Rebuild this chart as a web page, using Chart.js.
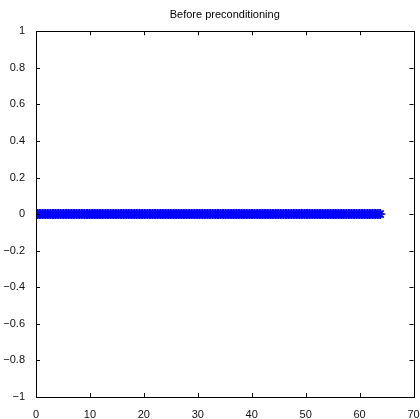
<!DOCTYPE html>
<html>
<head>
<meta charset="utf-8">
<script src="https://cdn.jsdelivr.net/npm/chart.js@4"></script>
<style>
  html, body { margin: 0; padding: 0; background: #fff; }
  #wrap { width: 420px; height: 419px; }
</style>
</head>
<body>
<div id="wrap"><canvas id="eigPlot" width="420" height="419"></canvas></div>
<script>
// eigenvalues before preconditioning (real part, imag part)
const eigReal = [
  0.02, 0.3, 0.61, 0.9, 1.21, 1.5, 1.8, 2.11, 2.4, 2.7,
  3.01, 3.3, 3.6, 3.91, 4.2, 4.5, 4.81, 5.1, 5.4, 5.71,
  6.0, 6.3, 6.61, 6.9, 7.2, 7.51, 7.8, 8.1, 8.41, 8.7,
  9.0, 9.31, 9.6, 9.9, 10.21, 10.5, 10.8, 11.11, 11.4, 11.7,
  12.01, 12.3, 12.6, 12.91, 13.2, 13.5, 13.81, 14.1, 14.4, 14.71,
  15.0, 15.3, 15.61, 15.9, 16.2, 16.51, 16.8, 17.1, 17.41, 17.7,
  18.0, 18.31, 18.6, 18.9, 19.21, 19.5, 19.8, 20.11, 20.4, 20.7,
  21.01, 21.3, 21.6, 21.91, 22.2, 22.5, 22.81, 23.1, 23.4, 23.71,
  24.0, 24.3, 24.61, 24.9, 25.2, 25.51, 25.8, 26.1, 26.41, 26.7,
  27.0, 27.31, 27.6, 27.9, 28.21, 28.5, 28.8, 29.11, 29.4, 29.7,
  30.01, 30.3, 30.6, 30.91, 31.2, 31.5, 31.81, 32.1, 32.4, 32.71,
  33.0, 33.3, 33.61, 33.9, 34.2, 34.51, 34.8, 35.1, 35.41, 35.7,
  36.0, 36.31, 36.6, 36.9, 37.21, 37.5, 37.8, 38.11, 38.4, 38.7,
  39.01, 39.3, 39.6, 39.91, 40.2, 40.5, 40.81, 41.1, 41.4, 41.71,
  42.0, 42.3, 42.61, 42.9, 43.2, 43.51, 43.8, 44.1, 44.41, 44.7,
  45.0, 45.31, 45.6, 45.9, 46.21, 46.5, 46.8, 47.11, 47.4, 47.7,
  48.01, 48.3, 48.6, 48.91, 49.2, 49.5, 49.81, 50.1, 50.4, 50.71,
  51.0, 51.3, 51.61, 51.9, 52.2, 52.51, 52.8, 53.1, 53.41, 53.7,
  54.0, 54.31, 54.6, 54.9, 55.21, 55.5, 55.8, 56.11, 56.4, 56.7,
  57.01, 57.3, 57.6, 57.91, 58.2, 58.5, 58.81, 59.1, 59.4, 59.71,
  60.0, 60.3, 60.61, 60.9, 61.2, 61.51, 61.8, 62.1, 62.41, 62.7,
  63.0, 63.3, 63.6, 63.85
];
const eigImag = eigReal.map(() => 0);

const xTicks = [0, 10, 20, 30, 40, 50, 60, 70];
const yTicks = [-1, -0.8, -0.6, -0.4, -0.2, 0, 0.2, 0.4, 0.6, 0.8, 1];
const plotTitle = "Before preconditioning";

const fontFam = "'Liberation Sans', Arial, Helvetica, sans-serif";

function fmt(v) {
  let r = Math.round(v * 10) / 10;
  let s = String(Math.abs(r));
  return r < 0 ? "\u2212" + s : s;
}

// box around plot + inward ticks on all 4 sides (matlab style)
const boxTicks = {
  id: "boxTicks",
  afterLayout(chart) {
    // center the title over the plot area, not the whole canvas
    const tb = chart.titleBlock, a = chart.chartArea;
    if (tb) { tb.left = a.left; tb.right = a.right; tb.width = a.right - a.left; }
  },
  afterDraw(chart) {
    const ctx = chart.ctx, a = chart.chartArea;
    const xs = chart.scales.x, ys = chart.scales.y;
    const len = 4;
    ctx.save();
    ctx.strokeStyle = "#000";
    ctx.lineWidth = 1;
    ctx.beginPath();
    xTicks.forEach(t => {
      const px = Math.round(xs.getPixelForValue(t)) + 0.5;
      ctx.moveTo(px, a.bottom); ctx.lineTo(px, a.bottom - len);
      ctx.moveTo(px, a.top); ctx.lineTo(px, a.top + len);
    });
    yTicks.forEach(t => {
      const py = Math.round(ys.getPixelForValue(t)) + 0.5;
      ctx.moveTo(a.left, py); ctx.lineTo(a.left + len, py);
      ctx.moveTo(a.right, py); ctx.lineTo(a.right - len, py);
    });
    ctx.stroke();
    ctx.strokeRect(Math.round(a.left) + 0.5, Math.round(a.top) + 0.5,
      Math.round(a.right - a.left), Math.round(a.bottom - a.top));
    ctx.restore();
  }
};

new Chart(document.getElementById("eigPlot"), {
  type: "scatter",
  data: {
    datasets: [{
      data: eigReal.map((x, i) => ({ x: x, y: eigImag[i] })),
      pointStyle: "star",
      radius: 5,
      borderWidth: 1.5,
      borderColor: "#0000ff",
      backgroundColor: "#0000ff"
    }]
  },
  options: {
    responsive: false,
    animation: false,
    layout: { padding: { left: 0, right: 6, top: 0, bottom: 0 } },
    plugins: {
      legend: { display: false },
      tooltip: { enabled: false },
      title: {
        display: true,
        text: plotTitle,
        color: "#000",
        font: { family: fontFam, size: 11, weight: "normal" },
        padding: { top: 8, bottom: 10 }
      }
    },
    scales: {
      x: {
        type: "linear",
        min: 0, max: 70,
        afterBuildTicks: s => { s.ticks = xTicks.map(v => ({ value: v })); },
        afterFit: s => { s.height = 22; s.paddingLeft = 0; s.paddingRight = 0; },
        grid: { display: false },
        border: { display: false },
        ticks: {
          color: "#111",
          padding: 3,
          maxRotation: 0,
          autoSkip: false,
          font: { family: fontFam, size: 11 },
          callback: v => fmt(v)
        }
      },
      y: {
        type: "linear",
        min: -1, max: 1,
        afterBuildTicks: s => { s.ticks = yTicks.map(v => ({ value: v })); },
        afterFit: s => { s.width = 36; s.paddingTop = 0; s.paddingBottom = 0; },
        grid: { display: false },
        border: { display: false },
        ticks: {
          color: "#111",
          padding: 3,
          autoSkip: false,
          font: { family: fontFam, size: 11 },
          callback: v => fmt(v)
        }
      }
    }
  },
  plugins: [boxTicks]
});
</script>
</body>
</html>
